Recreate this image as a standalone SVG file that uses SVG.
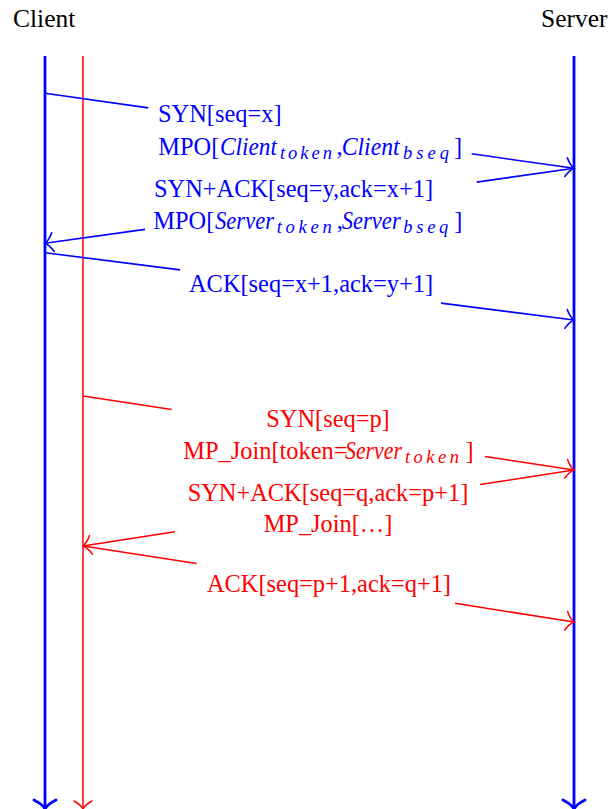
<svg xmlns="http://www.w3.org/2000/svg" width="610" height="809" viewBox="0 0 610 809">
<style>
  text { font-family: "Liberation Serif", "Times New Roman", serif; }
  .title { font-size: 25.5px; fill: #000; }
  .lb { font-size: 24.4px; fill: #0000ff; }
  .lr { font-size: 24.4px; fill: #ff0000; }
  .it { font-style: italic; }
  .sub { font-style: italic; font-size: 18.5px; }
  .life-b { stroke: #0000ff; stroke-width: 2.8; fill: none; }
  .life-r { stroke: #ff0000; stroke-width: 1.5; fill: none; }
  .msg-b { stroke: #0000ff; stroke-width: 1.6; fill: none; }
  .msg-r { stroke: #ff0000; stroke-width: 1.5; fill: none; }
</style>
<defs>
  <marker id="ahB" markerUnits="userSpaceOnUse" viewBox="-12 -12 14 24" markerWidth="14" markerHeight="24" refX="0" refY="0" orient="auto" overflow="visible">
    <path d="M -8,-9.5 C -6.5,-6 -2.5,-1.2 0,0 C -2.5,1.2 -6.5,6 -8,9.5" fill="none" stroke="#0000ff" stroke-width="1.6" stroke-linecap="round"/>
  </marker>
  <marker id="ahR" markerUnits="userSpaceOnUse" viewBox="-12 -12 14 24" markerWidth="14" markerHeight="24" refX="0" refY="0" orient="auto" overflow="visible">
    <path d="M -8,-9.5 C -6.5,-6 -2.5,-1.2 0,0 C -2.5,1.2 -6.5,6 -8,9.5" fill="none" stroke="#ff0000" stroke-width="1.5" stroke-linecap="round"/>
  </marker>
  <marker id="ahLB" markerUnits="userSpaceOnUse" viewBox="-14 -14 16 28" markerWidth="16" markerHeight="28" refX="0" refY="0" orient="auto" overflow="visible">
    <path d="M -9,-11 C -7,-7 -3,-1.5 0,0 C -3,1.5 -7,7 -9,11" fill="none" stroke="#0000ff" stroke-width="2.8" stroke-linecap="round"/>
  </marker>
  <marker id="ahLR" markerUnits="userSpaceOnUse" viewBox="-14 -14 16 28" markerWidth="16" markerHeight="28" refX="0" refY="0" orient="auto" overflow="visible">
    <path d="M -8,-9 C -6.5,-5.5 -2.5,-1.2 0,0 C -2.5,1.2 -6.5,5.5 -8,9" fill="none" stroke="#ff0000" stroke-width="1.5" stroke-linecap="round"/>
  </marker>
</defs>

<g id="client">
  <text class="title" x="13" y="27">Client</text>
</g>
<g id="server">
  <text class="title" x="541" y="27">Server</text>
</g>

<g id="connectors">
  <path id="client-life" class="life-b" d="M 45,56 L 45,809" marker-end="url(#ahLB)"/>
  <path id="subflow-life" class="life-r" d="M 83,56 L 83,809" marker-end="url(#ahLR)"/>
  <path id="server-life" class="life-b" d="M 574,56 L 574,809" marker-end="url(#ahLB)"/>
  <path class="msg-b" d="M 45,93.3 L 148.3,107.9 M 471.7,153.8 L 574,168.3" marker-end="url(#ahB)"/>
  <path class="msg-b" d="M 574,168.3 L 476.7,182.1 M 145,229.4 L 45,243.3" marker-end="url(#ahB)"/>
  <path class="msg-b" d="M 45,252.7 L 180,269.9 M 441,303.1 L 574,320" marker-end="url(#ahB)"/>
  <path class="msg-r" d="M 83,396 L 171.7,409.4 M 485,456.6 L 574,470" marker-end="url(#ahR)"/>
  <path class="msg-r" d="M 574,470 L 480,484.6 M 175,531.8 L 83,546" marker-end="url(#ahR)"/>
  <path class="msg-r" d="M 83,546 L 196.7,563.5 M 455,603.3 L 574,622" marker-end="url(#ahR)"/>
</g>

<g id="label-syn" class="lb">
  <text class="lb" x="158" y="121.5">SYN[seq=x]</text>
  <text class="lb" x="158.3" y="155">MPO[</text>
  <text class="lb it" x="220" y="155" textLength="57" lengthAdjust="spacingAndGlyphs">Client</text>
  <text class="lb sub" x="280" y="158.5" textLength="52" lengthAdjust="spacing">token</text>
  <text class="lb" x="336.5" y="155">,</text>
  <text class="lb it" x="341.7" y="155" textLength="58" lengthAdjust="spacingAndGlyphs">Client</text>
  <text class="lb sub" x="403" y="158.5" textLength="46" lengthAdjust="spacing">bseq</text>
  <text class="lb" x="454" y="155">]</text>
</g>
<g id="label-synack">
  <text class="lb" x="154" y="197">SYN+ACK[seq=y,ack=x+1]</text>
  <text class="lb" x="153.3" y="229">MPO[</text>
  <text class="lb it" x="215" y="229" textLength="59" lengthAdjust="spacingAndGlyphs">Server</text>
  <text class="lb sub" x="276.7" y="232.5" textLength="55" lengthAdjust="spacing">token</text>
  <text class="lb" x="336.7" y="229">,</text>
  <text class="lb it" x="341.7" y="229" textLength="59" lengthAdjust="spacingAndGlyphs">Server</text>
  <text class="lb sub" x="403.3" y="232.5" textLength="45" lengthAdjust="spacing">bseq</text>
  <text class="lb" x="454.3" y="229">]</text>
</g>
<g id="label-ack">
  <text class="lb" x="189" y="292">ACK[seq=x+1,ack=y+1]</text>
</g>

<g id="label-join-syn">
  <text class="lr" x="328" y="426.5" text-anchor="middle">SYN[seq=p]</text>
  <text class="lr" x="183.3" y="459">MP_Join[token=</text>
  <text class="lr it" x="345" y="459" textLength="57" lengthAdjust="spacingAndGlyphs">Server</text>
  <text class="lr sub" x="405" y="462.5" textLength="54" lengthAdjust="spacing">token</text>
  <text class="lr" x="465.5" y="459">]</text>
</g>
<g id="label-join-synack">
  <text class="lr" x="328" y="501" text-anchor="middle">SYN+ACK[seq=q,ack=p+1]</text>
  <text class="lr" x="328" y="532" text-anchor="middle">MP_Join[…]</text>
</g>
<g id="label-join-ack">
  <text class="lr" x="329" y="592" text-anchor="middle">ACK[seq=p+1,ack=q+1]</text>
</g>
</svg>
